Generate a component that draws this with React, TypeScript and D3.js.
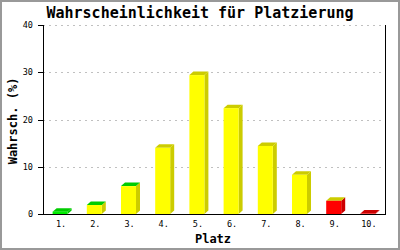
import React from "react";
import * as d3 from "d3";

const categories = ["1.", "2.", "3.", "4.", "5.", "6.", "7.", "8.", "9.", "10."];
const values = [0.5, 1.9, 5.9, 14.0, 29.4, 22.4, 14.4, 8.3, 2.8, 0.1];
const frontColors = ["#00ee00", "#ffff00", "#ffff00", "#ffff00", "#ffff00", "#ffff00", "#ffff00", "#ffff00", "#ff0000", "#ff0000"];
const sideColors = ["#00cc00", "#cccc00", "#cccc00", "#cccc00", "#cccc00", "#cccc00", "#cccc00", "#cccc00", "#cc0000", "#cc0000"];
const topColors = ["#00cc00", "#00cc00", "#00cc00", "#cccc00", "#cccc00", "#cccc00", "#cccc00", "#cccc00", "#cccc00", "#cc0000"];
const yTicks = [0, 10, 20, 30, 40];
const title = "Wahrscheinlichkeit für Platzierung";
const xTitle = "Platz";
const yTitle = "Wahrsch. (%)";

export default function App() {
  const W = 400, H = 250;
  const left = 43, right = 385, top = 25, bottom = 214;
  const x = d3.scaleBand<string>().domain(categories).range([left, right]).padding(0);
  const y = d3.scaleLinear().domain([0, 40]).range([bottom, top]);
  const bw = 15, dx = 4, dy = 3.5;
  const mono = "'DejaVu Sans Mono', monospace";
  return (
    <svg width={W} height={H} style={{ position: "absolute", left: 0, top: 0, background: "#fff" }}>
      <rect x={0} y={0} width={W} height={H} fill="#fff" />
      <rect x={1} y={1} width={W - 2} height={H - 2} fill="none" stroke="#999" strokeWidth={2} />
      {yTicks.filter(t => t > 0).map(t => (
        <line key={"g" + t} x1={left} x2={right} y1={Math.round(y(t)) + 0.5} y2={Math.round(y(t)) + 0.5}
          stroke="#c0c0c0" strokeDasharray="2,4" />
      ))}
      {values.map((v, i) => {
        const c = x(categories[i])! + x.bandwidth() / 2;
        const x0 = c - bw / 2, x1 = c + bw / 2;
        const yt = y(v), yb = y(0);
        return (
          <g key={i}>
            <polygon points={`${x1},${yb} ${x1 + dx},${yb - dy} ${x1 + dx},${yt - dy} ${x1},${yt}`} fill={sideColors[i]} />
            <polygon points={`${x0},${yt} ${x0 + dx},${yt - dy} ${x1 + dx},${yt - dy} ${x1},${yt}`} fill={topColors[i]} />
            <rect x={x0} y={yt} width={bw} height={Math.max(0, yb - yt)} fill={frontColors[i]} />
          </g>
        );
      })}
      <line x1={left + 0.5} x2={left + 0.5} y1={top} y2={bottom} stroke="#000" />
      <line x1={right + 0.5} x2={right + 0.5} y1={top} y2={bottom + 0.5} stroke="#000" />
      <line x1={38} x2={right + 1} y1={bottom + 0.5} y2={bottom + 0.5} stroke="#000" />
      {yTicks.map(t => (
        <g key={"t" + t}>
          <line x1={38} x2={left} y1={Math.round(y(t)) + 0.5} y2={Math.round(y(t)) + 0.5} stroke="#000" />
          <text x={33} y={y(t) + 3} textAnchor="end" fontFamily={mono} fontSize={8.5}>{t}</text>
        </g>
      ))}
      {categories.map(c => (
        <text key={"c" + c} x={x(c)! + x.bandwidth() / 2 + 1} y={226.5} textAnchor="middle" fontFamily={mono} fontSize={8.5}>{c}</text>
      ))}
      <text x={200} y={18} textAnchor="middle" fontFamily={mono} fontWeight="bold" fontSize={15}>{title}</text>
      <text x={213} y={243} textAnchor="middle" fontFamily={mono} fontWeight="bold" fontSize={12}>{xTitle}</text>
      <text transform={`translate(17,121) rotate(-90)`} textAnchor="middle" fontFamily={mono} fontWeight="bold" fontSize={12}>{yTitle}</text>
    </svg>
  );
}
